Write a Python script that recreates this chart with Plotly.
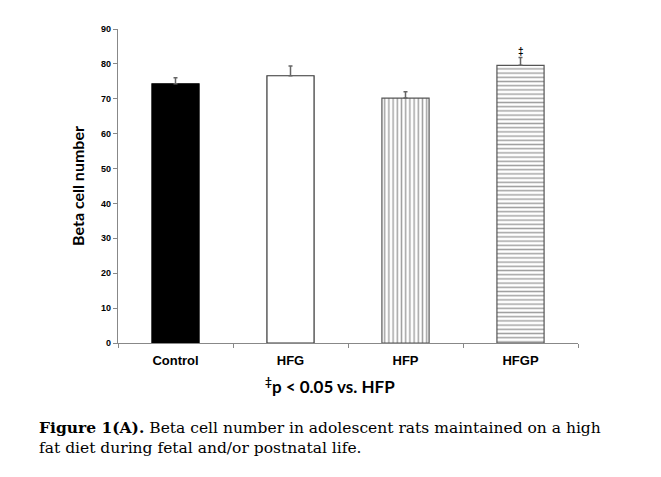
import plotly.graph_objects as go

categories = ["Control", "HFG", "HFP", "HFGP"]
values = [74.3, 76.6, 70.2, 79.6]
errors = [1.7, 2.8, 1.8, 2.2]
fill_colors = ["black", "white", "white", "white"]
pattern_shapes = ["", "", "|", "-"]
line_colors = ["black", "#333333", "#555555", "#555555"]
y_ticks = [0, 10, 20, 30, 40, 50, 60, 70, 80, 90]

fig = go.Figure()
fig.add_trace(go.Bar(
    x=categories, y=values, width=0.41,
    marker=dict(color=fill_colors,
                line=dict(color=line_colors, width=1.2),
                pattern=dict(shape=pattern_shapes, size=4.2, solidity=0.35,
                             fgcolor="#555555", bgcolor="white")),
    error_y=dict(type="data", symmetric=False, array=errors,
                 arrayminus=[0, 0, 0, 0], color="#666666", thickness=1.5, width=2),
    showlegend=False,
))

fig.add_annotation(x="HFGP", y=values[3] + errors[3], text="‡", showarrow=False,
                   yanchor="bottom", yshift=-1,
                   font=dict(family="Liberation Sans", size=10, color="black", weight="bold"))

fig.add_annotation(xref="paper", yref="paper", x=0.461, y=-0.134, text="<sup>‡</sup>p < 0.05 vs. HFP",
                   showarrow=False, xanchor="center", yanchor="middle",
                   font=dict(family="Lato", size=17, color="black", weight="bold"))

fig.add_annotation(xref="paper", yref="paper", x=-0.176, y=-0.232,
                   text="<b>Figure 1(A).</b> Beta cell number in adolescent rats maintained on a high<br>fat diet during fetal and/or postnatal life.",
                   showarrow=False, xanchor="left", yanchor="top", align="left",
                   font=dict(family="DejaVu Serif", size=15.5, color="black"))

fig.update_layout(
    width=661, height=477,
    margin=dict(l=110, r=91, t=21, b=142),
    plot_bgcolor="white", paper_bgcolor="white",
)
fig.update_xaxes(
    showline=True, linecolor="#888888", linewidth=1.2,
    ticks="outside", tickson="boundaries", ticklen=4, tickcolor="#888888",
    ticklabelstandoff=5,
    tickfont=dict(family="Liberation Sans", size=13, color="black", weight="bold"),
    showgrid=False,
)
fig.update_yaxes(
    range=[0, 90], tickvals=y_ticks,
    showline=True, linecolor="#888888", linewidth=1.2,
    ticks="outside", ticklen=4, tickcolor="#888888",
    tickfont=dict(family="Liberation Sans", size=9, color="black", weight="bold"),
    showgrid=False, zeroline=False,
    title=dict(text="Beta cell number", standoff=12,
               font=dict(family="Lato", size=16, color="black", weight="bold")),
)

fig.write_html("out.html")
